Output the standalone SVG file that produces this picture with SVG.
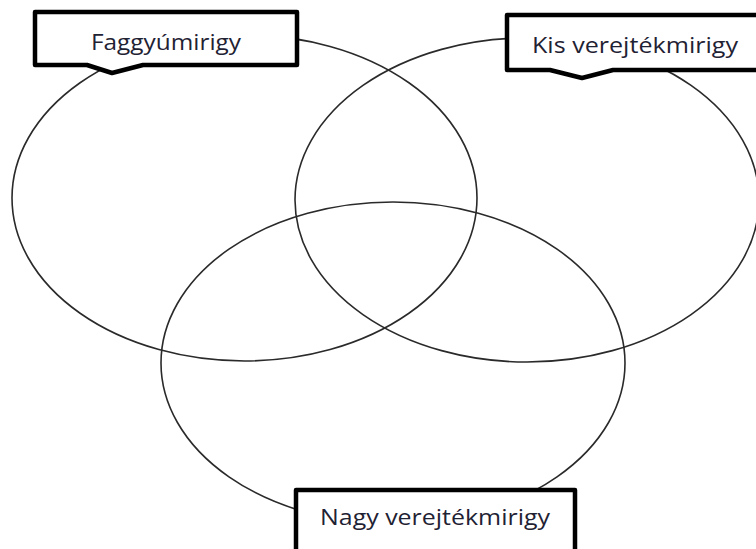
<svg xmlns="http://www.w3.org/2000/svg" width="756" height="549" viewBox="0 0 756 549">
<style>
.ell{fill:none;stroke:#2a2a2a;stroke-width:1.6}
.box{fill:#fff;stroke:#000;stroke-width:4.5;stroke-linejoin:round}
.lbl{font-family:"Open Sans","Noto Sans",sans-serif;font-size:21px;fill:#1f2233;text-anchor:middle}
</style>
<rect width="756" height="549" fill="#fff"/>
<g id="circles">
<ellipse id="faggyu-set" class="ell" cx="244.5" cy="198" rx="232.5" ry="163"/>
<ellipse id="kis-set" class="ell" cx="527" cy="200" rx="232" ry="162"/>
<ellipse id="nagy-set" class="ell" cx="393" cy="363" rx="232" ry="161"/>
</g>
<g id="connectors"></g>
<g id="label-faggyu">
<path class="box" d="M35,12 H297 V65 H143 L112,73 L87,65 H35 Z"/>
<text class="lbl" x="166" y="50" textLength="150" lengthAdjust="spacingAndGlyphs">Faggyúmirigy</text>
</g>
<g id="label-kis">
<path class="box" d="M507,15 H760 V70 H613 L582,78 L550,70 H507 Z"/>
<text class="lbl" x="635" y="53" textLength="206" lengthAdjust="spacingAndGlyphs">Kis verejtékmirigy</text>
</g>
<g id="label-nagy">
<path class="box" d="M296,490 H575 V556 H296 Z"/>
<text class="lbl" x="435" y="525" textLength="230" lengthAdjust="spacingAndGlyphs">Nagy verejtékmirigy</text>
</g>
</svg>
